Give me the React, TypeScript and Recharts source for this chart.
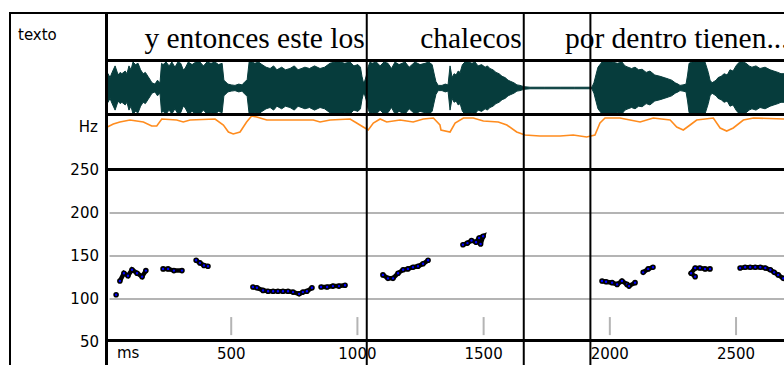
import React from 'react';
import {
  AreaChart, Area, LineChart, Line, ScatterChart, Scatter, ComposedChart,
  XAxis, YAxis, ReferenceLine,
} from 'recharts';

// eje de tiempo (ms) compartido por todos los paneles
const TIME_MAX = 2690;
const msTicks = [500, 1000, 1500, 2000, 2500];
const hzTicks = [50, 100, 150, 200, 250];
const hzGrid = [100, 150, 200];

// límites de los segmentos de texto (ms)
const boundaries = [1037, 1659, 1923];
const words = [
  { text: 'y entonces este los', end: 1037 },
  { text: 'chalecos', end: 1659 },
  { text: 'por dentro tienen...', start: 1822 },
];

// envolvente de la onda (amplitud relativa 0-1)
const waveTimes = [
  0, 6, 12, 20, 28, 40, 52, 60, 67, 80, 87, 95, 103, 111, 121, 131, 141, 151, 160, 170,
  180, 186, 198, 208, 218, 224, 230, 242, 254, 265, 277, 289, 300, 310, 317, 330, 345, 360, 376, 390,
  404, 420, 436, 450, 464, 471, 487, 500, 515, 530, 543, 555, 563, 571, 582, 594, 608, 622, 638, 654,
  668, 681, 700, 715, 733, 750, 765, 792, 810, 830, 852, 870, 891, 911, 931, 950, 971, 986, 1002, 1012,
  1018, 1024, 1030, 1036, 1042, 1050, 1058, 1075, 1090, 1105, 1121, 1135, 1149, 1165, 1189, 1205, 1228, 1248, 1268, 1282,
  1296, 1305, 1311, 1320, 1335, 1348, 1359, 1367, 1375, 1383, 1391, 1399, 1407, 1416, 1426, 1440, 1454, 1466, 1478, 1492,
  1506, 1515, 1525, 1537, 1549, 1561, 1573, 1585, 1597, 1608, 1620, 1632, 1644, 1660, 1684, 1740, 1803, 1860, 1929, 1937,
  1945, 1953, 1969, 1990, 2009, 2030, 2048, 2060, 2072, 2086, 2100, 2114, 2128, 2144, 2159, 2178, 2199, 2215, 2231, 2245,
  2259, 2270, 2278, 2290, 2302, 2308, 2314, 2326, 2338, 2358, 2377, 2390, 2397, 2405, 2413, 2421, 2429, 2441, 2453, 2465,
  2476, 2488, 2500, 2508, 2516, 2528, 2540, 2552, 2563, 2579, 2595, 2615, 2635, 2650, 2666, 2678, 2690,
];
const waveAmp = [
  0, 0.45, 0.55, 0.4, 0.6, 0.85, 0.5, 0.6, 0.55, 0.65, 0.55, 0.85, 0.7, 1, 0.9, 0.95, 0.7, 0.55, 0.6, 0.45,
  0.3, 0.2, 0.15, 0.3, 0.2, 0.95, 0.9, 1, 0.85, 1, 0.8, 1, 0.95, 0.7, 0.75, 1, 0.9, 1, 1, 0.85,
  1, 0.95, 1, 0.9, 0.95, 0.3, 0.15, 0.12, 0.1, 0.15, 0.12, 0.25, 0.3, 1, 1, 0.95, 1, 0.9, 0.8, 0.75,
  0.85, 0.7, 0.8, 0.7, 0.75, 0.85, 0.7, 0.8, 0.75, 0.85, 0.75, 0.8, 0.95, 1, 1, 0.95, 1, 0.85, 0.9, 0.8,
  0.45, 0.2, 0.3, 0.5, 0.8, 1, 0.95, 1, 0.85, 1, 0.95, 0.75, 1, 0.9, 1, 0.8, 1, 0.9, 0.95, 1,
  0.9, 0.5, 0.25, 0.1, 0.1, 0.15, 0.12, 0.85, 0.4, 0.55, 0.5, 0.65, 0.6, 0.9, 1, 1, 0.95, 1, 0.85, 0.9,
  0.8, 0.85, 0.75, 0.7, 0.6, 0.55, 0.45, 0.4, 0.3, 0.25, 0.2, 0.12, 0.1, 0.05, 0.03, 0.03, 0.03, 0.03, 0.03, 0.2,
  0.5, 0.8, 1, 1, 1, 0.95, 1, 0.85, 0.8, 0.75, 0.8, 0.7, 0.72, 0.6, 0.65, 0.5, 0.45, 0.4, 0.35, 0.3,
  0.2, 0.15, 0.1, 0.12, 0.15, 0.5, 0.95, 1, 1, 1, 1, 0.6, 0.3, 0.2, 0.25, 0.3, 0.4, 0.45, 0.55, 0.5,
  0.7, 0.65, 0.85, 0.95, 1, 1, 0.95, 0.85, 0.8, 0.85, 0.75, 0.8, 0.7, 0.65, 0.6, 0.55, 0.55,
];

// curva de intensidad (nivel relativo)
const intTimes = [
  5, 9, 33, 59, 99, 152, 185, 205, 225, 284, 310, 337, 436, 469, 489, 508, 535, 561, 581, 601,
  641, 825, 852, 892, 971, 997, 1023, 1043, 1063, 1090, 1116, 1169, 1221, 1261, 1301, 1327, 1331, 1367, 1387, 1420,
  1459, 1499, 1558, 1592, 1631, 1664, 1723, 1803, 1855, 1908, 1941, 1961, 1981, 2040, 2080, 2120, 2172, 2239, 2265, 2291,
  2318, 2344, 2410, 2437, 2463, 2489, 2529, 2569, 2690,
];
const intLevels = [
  0, 41, 44, 46, 48, 46, 42, 42, 49, 48, 46, 48, 49, 43, 36, 34, 36, 46, 52, 51,
  48, 48, 46, 48, 49, 45, 41, 38, 45, 49, 46, 48, 46, 49, 50, 43, 38, 36, 45, 50,
  50, 47, 46, 43, 36, 33, 32, 32, 33, 31, 33, 45, 50, 50, 48, 46, 50, 48, 41, 38,
  43, 48, 50, 40, 37, 40, 48, 50, 49,
];

// F0 en Hz, por tramos sonoros [ms, Hz]
const pitchSegments = [
  [[44, 105]],
  [[59, 121], [75, 130], [91, 127], [107, 134], [127, 130], [147, 126], [162, 133]],
  [[230, 135], [250, 135], [273, 133], [305, 133]],
  [[361, 145], [376, 142], [392, 139], [408, 138]],
  [[586, 114], [602, 113], [626, 110], [646, 109], [666, 109], [685, 109], [705, 109], [725, 109], [745, 108], [769, 106], [784, 108], [800, 109], [820, 113]],
  [[856, 114], [880, 114], [903, 115], [927, 115], [951, 116]],
  [[1101, 128], [1121, 124], [1141, 124], [1161, 130], [1181, 134], [1200, 135], [1220, 137], [1240, 138], [1260, 141], [1280, 145]],
  [[1418, 163], [1436, 165], [1452, 168], [1470, 166], [1482, 171], [1498, 173], [1488, 164]],
  [[1969, 121], [1985, 120], [2009, 119], [2029, 117], [2048, 121], [2068, 117], [2076, 115], [2100, 119]],
  [[2132, 131], [2152, 135], [2171, 137]],
  [[2338, 126], [2322, 130], [2338, 136], [2357, 136], [2377, 135], [2397, 135]],
  [[2516, 136], [2536, 137], [2556, 137], [2576, 137], [2596, 137], [2616, 136], [2636, 134], [2651, 131], [2667, 128], [2687, 124]],
];

const waveData = waveTimes.map((t, i) => ({ t, amp: [-waveAmp[i], waveAmp[i]] }));
const intData = intTimes.map((t, i) => ({ t, v: intLevels[i] }));
const pitchData = pitchSegments.map(seg => seg.map(([ms, hz]) => ({ ms, hz })));

const small = { fill: '#000', fontSize: 15, fontFamily: 'DejaVu Sans' };
const WAVE = '#063c3c';
const GRID = '#b4b4b4';

const PitchDot = (p: any) => (
  <circle cx={p.cx} cy={p.cy} r={2} fill="#0000ff" stroke="#000" strokeWidth={1.6} />
);

const bar = (left: number, top: number, width: number, height: number) => (
  <div style={{ position: 'absolute', left, top, width, height, background: '#000' }} />
);

export default function App() {
  const plotW = 784 - 105;
  return (
    <div style={{ position: 'absolute', left: 0, top: 0, width: 784, height: 365, overflow: 'hidden', background: '#fff' }}>
      {/* onda */}
      <div style={{ position: 'absolute', left: 105, top: 62 }}>
        <AreaChart width={plotW} height={52} data={waveData} margin={{ top: 0, right: 0, bottom: 0, left: 0 }}>
          <XAxis type="number" dataKey="t" domain={[0, TIME_MAX]} hide allowDataOverflow />
          <YAxis type="number" domain={[-1, 1]} hide allowDataOverflow />
          <Area dataKey="amp" type="linear" fill={WAVE} fillOpacity={1} stroke={WAVE} strokeWidth={1} isAnimationActive={false} />
        </AreaChart>
      </div>

      {/* intensidad */}
      <div style={{ position: 'absolute', left: 105, top: 116 }}>
        <LineChart width={plotW} height={52} data={intData} margin={{ top: 0, right: 0, bottom: 0, left: 0 }}>
          <XAxis type="number" dataKey="t" domain={[0, TIME_MAX]} hide allowDataOverflow />
          <YAxis type="number" domain={[0, 52]} hide allowDataOverflow />
          <Line dataKey="v" type="linear" stroke="#ff8c1e" strokeWidth={1.6} dot={false} isAnimationActive={false} />
        </LineChart>
      </div>

      {/* F0 */}
      <div style={{ position: 'absolute', left: 0, top: 160 }}>
        <ScatterChart width={784} height={205} margin={{ top: 10, right: 0, bottom: 0, left: 0 }}>
          <XAxis type="number" dataKey="ms" domain={[0, TIME_MAX]} ticks={msTicks} interval={0}
            height={23} axisLine={false} tickLine={false} tickSize={0} tickMargin={6} tick={small} allowDataOverflow />
          <YAxis type="number" dataKey="hz" domain={[50, 250]} ticks={hzTicks} interval={0}
            width={105} axisLine={false} tickLine={false} tickSize={0} tickMargin={6} tick={small} allowDataOverflow />
          {hzGrid.map(v => (
            <ReferenceLine key={'g' + v} segment={[{ x: 18, y: v }, { x: TIME_MAX, y: v }]} stroke={GRID} strokeWidth={2} />
          ))}
          {msTicks.map(t => (
            <ReferenceLine key={'k' + t} segment={[{ x: t, y: 58 }, { x: t, y: 79 }]} stroke={GRID} strokeWidth={2} />
          ))}
          {pitchData.map((seg, i) => (
            <Scatter key={i} data={seg} fill="#000" line={{ stroke: '#000', strokeWidth: 4.5 }} shape={PitchDot} isAnimationActive={false} />
          ))}
        </ScatterChart>
      </div>

      {/* marco */}
      {bar(9, 12, 775, 2)}
      {bar(9, 12, 2, 353)}
      {bar(105, 12, 3, 353)}
      {bar(105, 59, 679, 3)}
      {bar(105, 113, 679, 3)}
      {bar(105, 168, 679, 3)}
      {bar(105, 339, 679, 3)}

      <div style={{ position: 'absolute', left: 18, top: 27, fontFamily: 'DejaVu Sans', fontSize: 15, lineHeight: '17px' }}>texto</div>
      <div style={{ position: 'absolute', right: 784 - 98, top: 119, fontFamily: 'DejaVu Sans', fontSize: 15, lineHeight: '17px' }}>Hz</div>
      <div style={{ position: 'absolute', left: 117, top: 345, fontFamily: 'DejaVu Sans', fontSize: 15, lineHeight: '17px' }}>ms</div>

      {/* límites y texto */}
      <div style={{ position: 'absolute', left: 105, top: 13 }}>
        <ComposedChart width={plotW} height={352} data={boundaries.map(t => ({ t }))} margin={{ top: 0, right: 0, bottom: 0, left: 0 }}>
          <XAxis type="number" dataKey="t" domain={[0, TIME_MAX]} hide allowDataOverflow />
          <YAxis type="number" domain={[0, 1]} hide allowDataOverflow />
          {boundaries.map(t => (
            <ReferenceLine key={'b' + t} x={t} stroke="#000" strokeWidth={2} />
          ))}
          {words.map(w => (
            <ReferenceLine key={w.text} x={w.end ?? w.start} stroke="none"
              label={(p: any) => (
                <text x={p.viewBox.x + (w.end ? -2 : 0)} y={35} textAnchor={w.end ? 'end' : 'start'}
                  fontFamily="Liberation Serif" fontSize={29.5} fill="#000">{w.text}</text>
              )} />
          ))}
        </ComposedChart>
      </div>
    </div>
  );
}
